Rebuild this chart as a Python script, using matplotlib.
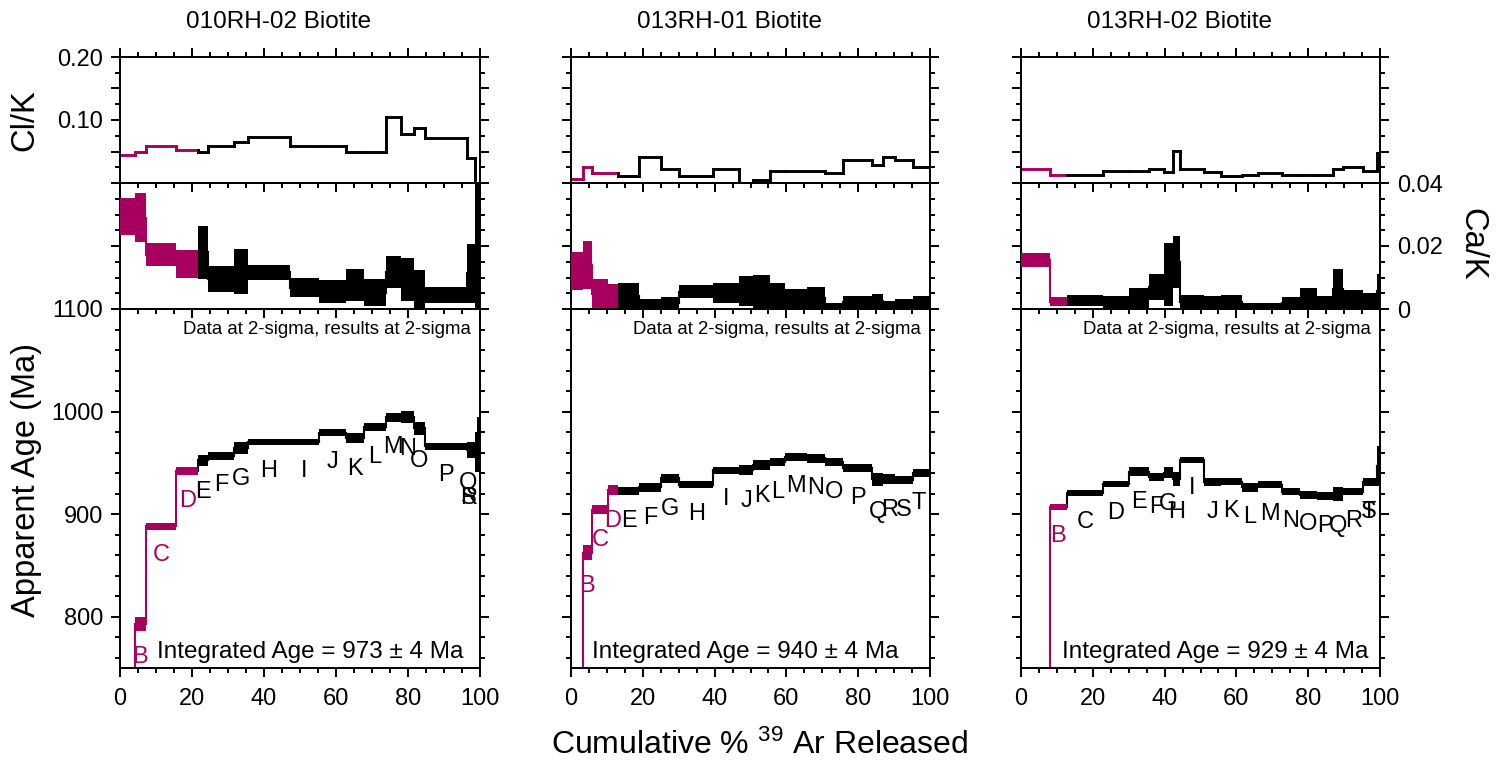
import matplotlib
matplotlib.use('Agg')
import matplotlib.pyplot as plt
import numpy as np
from matplotlib.ticker import MultipleLocator, FuncFormatter

plt.rcParams['font.family'] = ['Liberation Sans', 'DejaVu Sans']
plt.rcParams['mathtext.fontset'] = 'custom'
plt.rcParams['mathtext.rm'] = 'Liberation Sans'
plt.rcParams['mathtext.it'] = 'Liberation Sans:italic'

MAGENTA = '#a8005f'

titles = ['010RH-02 Biotite', '013RH-01 Biotite', '013RH-02 Biotite']
integrated = ['973 ± 4', '940 ± 4', '929 ± 4']
n_excluded = [4, 4, 2]   # leading steps drawn in magenta

# --- 010RH-02 ---
edges_1 = [0, 4.1, 7.2, 15.6, 21.8, 24.5, 31.8, 35.6, 47.2, 55.2, 62.7, 67.9,
           73.8, 78.1, 81.6, 84.8, 96.3, 98.6, 99.3, 100]
age_1 = [650, 793, 888, 942, 952.5, 957, 964.5, 970.5, 970.5, 979.5, 974, 985,
         994.5, 994.5, 983.5, 966, 962.5, 960.5, 967.8]
age_err_1 = [10, 7, 3, 4, 5.5, 4, 5.5, 3, 3, 3.5, 5, 4, 4.5, 6, 6.5, 3, 7.5, 19.5, 26.8]
clk_1 = [0.044, 0.050, 0.058, 0.053, 0.049, 0.058, 0.065, 0.073, 0.058, 0.058,
         0.049, 0.049, 0.105, 0.078, 0.087, 0.071, 0.040, 0.0, 0.0]
cak_1 = [0.0294, 0.0290, 0.0173, 0.0142, 0.0180, 0.0094, 0.0119, 0.0116, 0.0068,
         0.0055, 0.0076, 0.0052, 0.0117, 0.0093, 0.0060, 0.0045, 0.0113, 0.020, 0.020]
cak_err_1 = [0.0058, 0.0077, 0.0035, 0.0044, 0.0085, 0.0041, 0.0071, 0.0023, 0.0031,
             0.0036, 0.0052, 0.0044, 0.0051, 0.0069, 0.0065, 0.0026, 0.0094, 0.030, 0.030]

# --- 013RH-01 ---
edges_2 = [0, 3.25, 5.9, 10.2, 13.2, 19.0, 25.1, 30.2, 39.6, 46.8, 50.8, 55.4,
           59.6, 65.6, 70.8, 75.9, 83.8, 87.0, 90.3, 95.2, 100]
age_2 = [700, 862.5, 904.5, 923.5, 922.5, 926, 935, 928.5, 942.7, 943, 947.6, 951,
         956, 954.5, 951, 945, 934, 934.5, 933, 940]
age_err_2 = [10, 7.5, 4.5, 5, 4, 4.5, 4.5, 3.5, 3.3, 5, 5, 4, 4, 4.5, 4, 4, 6.5, 5, 4, 4]
clk_2 = [0.0063, 0.025, 0.016, 0.016, 0.0106, 0.042, 0.022, 0.0106, 0.022, -0.002,
         0.004, 0.0185, 0.0185, 0.0185, 0.016, 0.037, 0.029, 0.042, 0.036, 0.025]
cak_2 = [0.0120, 0.0139, 0.0048, 0.0039, 0.0042, 0.0016, 0.0019, 0.0055, 0.0051,
         0.0057, 0.0055, 0.0042, 0.0031, 0.0035, 0.0010, 0.0021, 0.0024, 0.0012,
         0.0016, 0.0021]
cak_err_2 = [0.0061, 0.0076, 0.0048, 0.0039, 0.0042, 0.0016, 0.0019, 0.0020, 0.0032,
             0.0049, 0.0052, 0.0042, 0.0031, 0.0035, 0.0010, 0.0021, 0.0024, 0.0012,
             0.0016, 0.0021]

# --- 013RH-02 ---
edges_3 = [0, 8.0, 12.8, 22.8, 30.1, 35.7, 39.7, 42.3, 44.2, 51.1, 55.7, 61.5,
           66.1, 72.6, 77.6, 82.4, 87.0, 89.8, 95.4, 99.3, 100]
age_3 = [700, 907, 920.3, 929, 941.5, 936, 940.5, 934, 953, 931.5, 931.7, 926.3,
         928.5, 922, 918.8, 917.5, 920, 922, 931, 947]
age_err_3 = [10, 3.3, 2.8, 3, 4.5, 4, 5.7, 7, 3, 4, 3.3, 4.4, 3.4, 3.8, 3.7, 4, 6.7,
             3.3, 3.8, 19.6]
clk_3 = [0.022, 0.013, 0.013, 0.0185, 0.0185, 0.022, 0.017, 0.051, 0.023, 0.017,
         0.0106, 0.013, 0.016, 0.013, 0.013, 0.013, 0.022, 0.025, 0.0185, 0.048]
cak_3 = [0.0155, 0.0023, 0.0027, 0.0020, 0.0034, 0.0071, 0.0108, 0.0149, 0.0023,
         0.0021, 0.0023, 0.0009, 0.0010, 0.0019, 0.0034, 0.0021, 0.0063, 0.0030,
         0.0025, 0.0056]
cak_err_3 = [0.0023, 0.0015, 0.0019, 0.0020, 0.0034, 0.0041, 0.0100, 0.0082, 0.0023,
             0.0021, 0.0023, 0.0009, 0.0010, 0.0019, 0.0034, 0.0021, 0.0063, 0.0030,
             0.0025, 0.0056]

samples = [
    (edges_1, age_1, age_err_1, clk_1, cak_1, cak_err_1),
    (edges_2, age_2, age_err_2, clk_2, cak_2, cak_err_2),
    (edges_3, age_3, age_err_3, clk_3, cak_3, cak_err_3),
]

W, H = 1512, 761
fig = plt.figure(figsize=(W / 100, H / 100), dpi=100)


def px_axes(x0, x1, y0, y1):
    ax = fig.add_axes([x0 / W, 1 - y1 / H, (x1 - x0) / W, (y1 - y0) / H])
    ax.set_facecolor('none')
    return ax


def style(ax, top=False):
    ax.set_xlim(0, 100)
    ax.xaxis.set_major_locator(MultipleLocator(20))
    ax.xaxis.set_minor_locator(MultipleLocator(5))
    ax.tick_params(which='both', direction='out', top=top, bottom=True,
                   left=True, right=True, labelbottom=False, labelleft=False,
                   width=1.4, labelsize=17)
    ax.tick_params(axis='x', pad=8)
    ax.tick_params(axis='y', pad=5.5)
    ax.tick_params(which='major', length=6.5)
    ax.tick_params(which='minor', length=3.4)
    for s in ax.spines.values():
        s.set_linewidth(1.4)


def step_line(ax, edges, vals, colors, lw):
    for i in range(len(vals)):
        ax.plot([edges[i], edges[i + 1]], [vals[i], vals[i]], color=colors[i],
                lw=lw, solid_capstyle='projecting')
        if i > 0:
            ax.plot([edges[i], edges[i]], [vals[i - 1], vals[i]], color=colors[i],
                    lw=lw, solid_capstyle='projecting')


def step_boxes(ax, edges, vals, errs, colors):
    edges = np.array(edges)
    vals = np.array(vals)
    errs = np.array(errs)
    step_line(ax, edges, vals, colors, 1.5)
    ax.bar(edges[:-1], 2 * errs, bottom=vals - errs, width=np.diff(edges),
           align='edge', color=colors, linewidth=0, zorder=3)


panel_x = [(120, 480), (571, 930), (1021, 1380)]
integ_x = [0.103, 0.058, 0.114]
letters = 'ABCDEFGHIJKLMNOPQRST'

for k, (edges, age, age_err, clk, cak, cak_err) in enumerate(samples):
    x0, x1 = panel_x[k]
    n = len(age)
    colors = [MAGENTA if i < n_excluded[k] else 'black' for i in range(n)]

    # Cl/K
    ax_cl = px_axes(x0, x1, 57, 183)
    style(ax_cl, top=True)
    ax_cl.set_ylim(0, 0.2)
    ax_cl.yaxis.set_major_locator(MultipleLocator(0.05))
    ax_cl.yaxis.set_minor_locator(MultipleLocator(0.025))
    ax_cl.yaxis.set_major_formatter(FuncFormatter(
        lambda v, p: f'{v:.2f}' if abs(v - 0.1) < 1e-6 or abs(v - 0.2) < 1e-6 else ''))
    step_line(ax_cl, edges, clk, colors, 2.1)

    # Ca/K
    ax_ca = px_axes(x0, x1, 183, 309)
    style(ax_ca)
    ax_ca.set_ylim(0, 0.04)
    ax_ca.yaxis.set_major_locator(MultipleLocator(0.02))
    ax_ca.yaxis.set_minor_locator(MultipleLocator(0.005))
    ax_ca.yaxis.set_major_formatter(FuncFormatter(
        lambda v, p: '0' if abs(v) < 1e-9 else f'{v:.2f}'))
    step_boxes(ax_ca, edges, cak, cak_err, colors)

    # age spectrum
    ax = px_axes(x0, x1, 309, 668)
    style(ax)
    ax.tick_params(labelbottom=True)
    ax.set_ylim(750, 1100)
    ax.yaxis.set_major_locator(MultipleLocator(100))
    ax.yaxis.set_minor_locator(MultipleLocator(20))
    step_boxes(ax, edges, age, age_err, colors)
    for i in range(1, n):
        mid = min((edges[i] + edges[i + 1]) / 2, 96.8)
        ax.text(mid, age[i] - age_err[i] - 25, letters[i], ha='center',
                va='center', color=colors[i], fontsize=17, zorder=4)
    ax.text(0.975, 0.944, 'Data at 2-sigma, results at 2-sigma',
            transform=ax.transAxes, ha='right', va='center', fontsize=13.4)
    ax.text(integ_x[k], 0.045, f'Integrated Age = {integrated[k]} Ma',
            transform=ax.transAxes, ha='left', va='center', fontsize=17.5)

    fig.text(((x0 + x1) / 2 - 21) / W, 1 - 22 / H, titles[k], ha='center',
             va='center', fontsize=17.5)

    if k == 0:
        ax_cl.tick_params(labelleft=True)
        ax.tick_params(labelleft=True)
    if k == 2:
        ax_ca.tick_params(labelright=True)

fig.text(25 / W, 1 - 120 / H, 'Cl/K', rotation=90, ha='center', va='center',
         fontsize=23.5)
fig.text(27 / W, 1 - 480 / H, 'Apparent Age (Ma)', rotation=90, ha='center',
         va='center', fontsize=23.5)
fig.text(1472 / W, 1 - 244 / H, 'Ca/K', rotation=270, ha='center', va='center',
         fontsize=23.5)
fig.text(760 / W, 1 - 745 / H, r'Cumulative % $^{39}$ Ar Released', ha='center',
         va='center', fontsize=23)

fig.savefig('out.png', dpi=100)
